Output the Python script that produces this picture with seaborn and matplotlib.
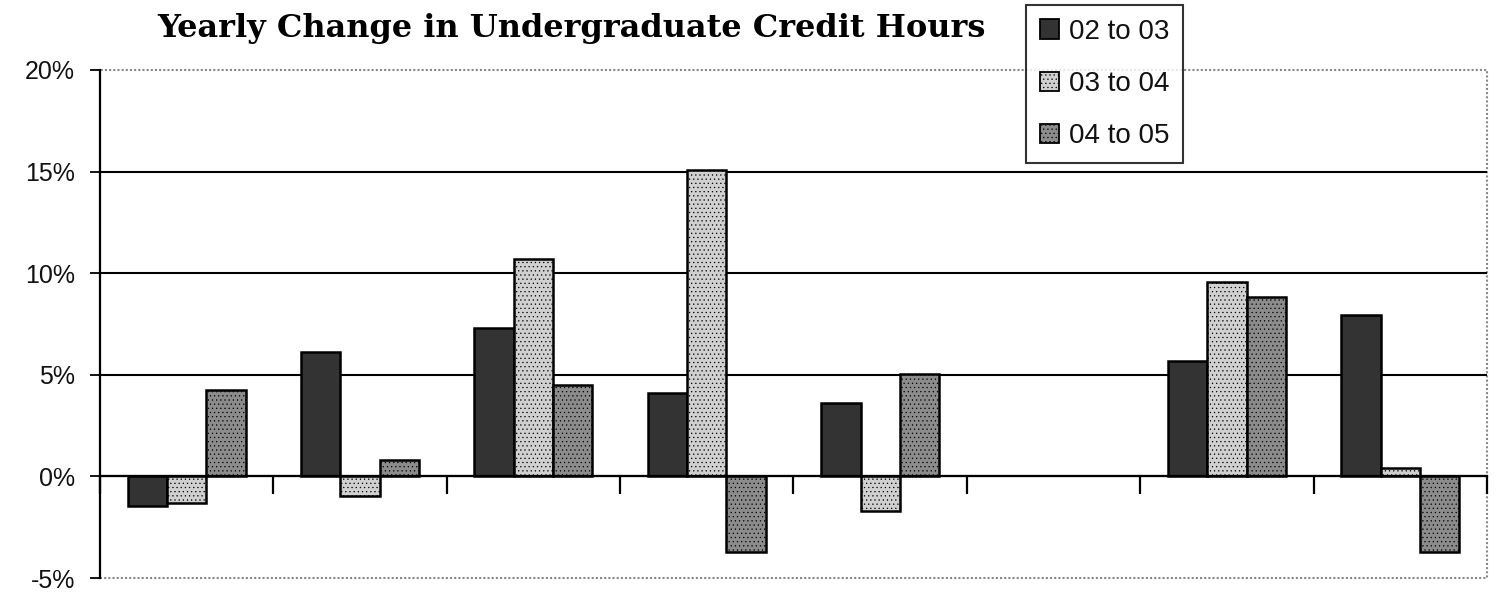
import numpy as np
import pandas as pd
import matplotlib
matplotlib.use('Agg')
import matplotlib.pyplot as plt
import matplotlib.patches as mpatches
import seaborn as sns

# dados (em %)
grupos = ['G1', 'G2', 'G3', 'G4', 'G5', 'G6', 'G7', 'G8']
periodos = ['02 to 03', '03 to 04', '04 to 05']
v_02_03 = [-1.45, 6.1, 7.3, 4.1, 3.6, np.nan, 5.7, 7.95]
v_03_04 = [-1.3, -0.95, 10.7, 15.1, -1.7, np.nan, 9.55, 0.4]
v_04_05 = [4.25, 0.8, 4.5, -3.7, 5.05, np.nan, 8.85, -3.7]
yticks = [-5, 0, 5, 10, 15, 20]
ytick_labels = ['-5%', '0%', '5%', '10%', '15%', '20%']

df = pd.DataFrame({
    'grupo': grupos * 3,
    'periodo': np.repeat(periodos, len(grupos)),
    'valor': v_02_03 + v_03_04 + v_04_05,
})

cores = ['#333333', '#d0d0d0', '#8c8c8c']

sns.set_style('white')
plt.rcParams['font.family'] = ['Liberation Sans', 'DejaVu Sans']
plt.rcParams['hatch.linewidth'] = 0.4
plt.rcParams['text.color'] = 'black'

fig = plt.figure(figsize=(14.97, 5.92), dpi=100)
ax = fig.add_axes([0.0668, 0.0236, 0.9265, 0.8582])

sns.barplot(data=df, x='grupo', y='valor', hue='periodo', palette=cores,
            width=0.68, edgecolor='black', linewidth=1.8, ax=ax, legend=False)

for cont, hatch in zip(ax.containers, [None, '....', '....']):
    if hatch:
        for p in cont:
            p.set_hatch(hatch)

ax.set_xlim(-0.5, len(grupos) - 0.5)
ax.set_ylim(-5, 20)
ax.set_yticks(yticks)
ax.set_yticklabels(ytick_labels, fontsize=18, color='#111111')
ax.set_xticks(np.arange(-0.5, len(grupos), 1))
ax.set_xticklabels([])
ax.set_xlabel('')
ax.set_ylabel('')

# grade horizontal (sem as bordas)
ax.yaxis.grid(True, color='black', linewidth=1.5)
ax.set_axisbelow(True)
gl = ax.get_ygridlines()
gl[0].set_visible(False)
gl[-1].set_visible(False)

# eixo x na linha do zero
ax.spines['bottom'].set_position(('data', 0))
ax.spines['bottom'].set_color('black')
ax.spines['bottom'].set_linewidth(1.6)
ax.spines['left'].set_color('black')
ax.spines['left'].set_linewidth(1.6)
ax.spines['top'].set_visible(False)
ax.spines['right'].set_visible(False)
ax.tick_params(axis='x', bottom=True, direction='out', length=13, width=1.6, color='black')
ax.tick_params(axis='y', left=True, direction='out', length=7, width=1.3, color='black', pad=11)

# moldura pontilhada
ax.add_patch(mpatches.Rectangle((0, 0), 1, 1, transform=ax.transAxes, fill=False,
                                edgecolor='#888888', linewidth=1.5, linestyle=(0, (1, 1)),
                                clip_on=False, zorder=0.5))

fig.text(0.382, 0.952, 'Yearly Change in Undergraduate Credit Hours', ha='center', va='center',
         fontsize=23, fontweight='bold', family='DejaVu Serif', color='black')

handles = [mpatches.Patch(facecolor=c, edgecolor='black', linewidth=1.3, hatch=h)
           for c, h in zip(cores, [None, '....', '....'])]
leg = fig.legend(handles, periodos, loc='upper left', bbox_to_anchor=(0.6853, 0.992),
                 fontsize=20, frameon=True, fancybox=False, handlelength=0.7,
                 handleheight=0.7, handletextpad=0.35, labelspacing=0.95,
                 borderpad=0.5, borderaxespad=0)
leg.get_frame().set_edgecolor('black')
leg.get_frame().set_linewidth(1.5)
for t in leg.get_texts():
    t.set_color('#111111')

plt.savefig('out.png', dpi=100)
